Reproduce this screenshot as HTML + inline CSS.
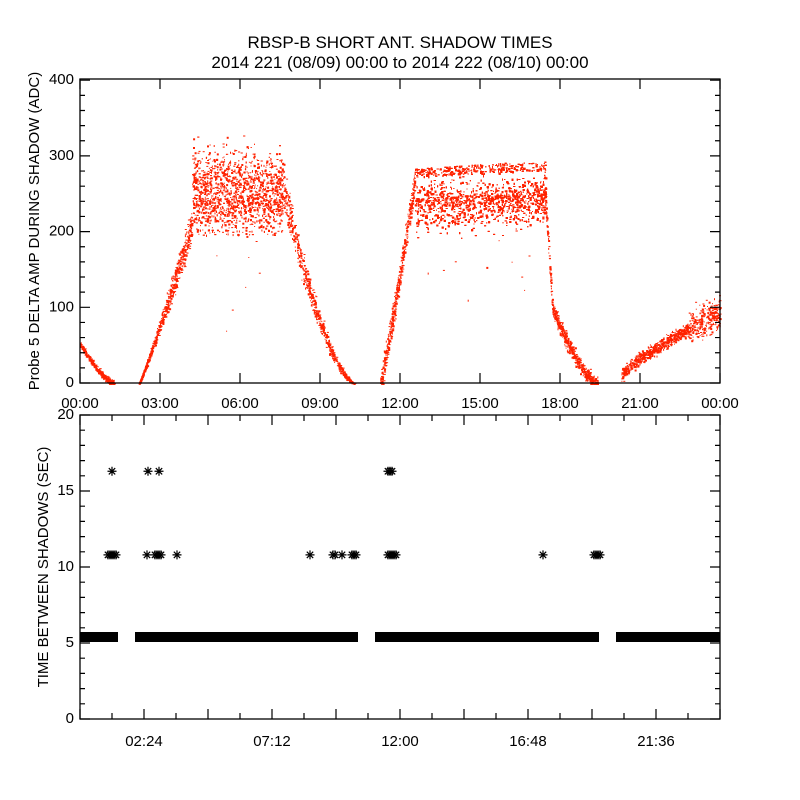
<!DOCTYPE html>
<html><head><meta charset="utf-8"><style>
html,body{margin:0;padding:0;background:#fff;}
svg{display:block;}
text{font-family:"Liberation Sans","DejaVu Sans",sans-serif;fill:#000;}
</style></head><body>
<svg id="s" width="800" height="800" xmlns="http://www.w3.org/2000/svg"></svg>
<script>
var S=document.getElementById('s');var out=[];
var seed=12345;function R(){seed=(seed*1103515245+12345)%2147483648;return seed/2147483648;}
function G(){return (R()+R()+R()-1.5)/1.5;}
function X(h){return 80+h*640/24;}
function Y1(v){return 383-v*0.757;}
function Y2(v){return 719-v*15.2;}
out.push('<text x="400" y="48" font-size="17" text-anchor="middle">RBSP-B SHORT ANT. SHADOW TIMES</text>');
out.push('<text x="400" y="68" font-size="17" text-anchor="middle">2014 221 (08/09) 00:00 to 2014 222 (08/10) 00:00</text>');
var pts=[];
function add(h,v){if(v<0)v=0;pts.push('<rect x="'+X(h).toFixed(1)+'" y="'+Y1(v).toFixed(1)+'" width="'+(R()<0.5?2:1)+'" height="'+(R()<0.4?2:1)+'"/>');}
var i,h,b,t;
for(i=0;i<350;i++){h=R()*1.3;b=52*Math.pow(1-h/1.3,1.5)+G()*6;add(h,b);}
for(i=0;i<650;i++){h=2.2+R()*2.0;t=(h-2.2)/2.0;b=210*Math.pow(t,1.1)+G()*35*t;add(h,b);}
for(i=0;i<2200;i++){h=4.2+R()*3.4;b=258+G()*75;if(R()<0.15)b=195+R()*50;add(h,b);}
for(i=0;i<650;i++){h=7.6+R()*2.7;t=(h-7.6)/2.7;b=260*Math.pow(1-t,1.6)+G()*40*(1-t);add(h,b);}
for(i=0;i<450;i++){h=11.25+R()*1.3;t=(h-11.25)/1.3;b=270*Math.pow(t,1.1)+G()*25;add(h,b);}
for(i=0;i<4500;i++){h=12.55+R()*4.9;b=235+G()*50+(h-12.5)*1.5;if(R()<0.2)b=272+R()*12+(h-12.5)*2;if(R()<0.08)b=240+(h-12.5)*1.5+R()*4;add(h,b);}
for(i=0;i<600;i++){h=17.4+R()*2.0;t=(h-17.4)/2.0;b=(t<0.15?270-t/0.15*170:100*Math.pow((1-t)/0.85,1.5))+G()*15;add(h,b);}
for(i=0;i<900;i++){h=20.3+R()*3.7;t=(h-20.3)/3.7;b=10+85*Math.pow(t,0.8)+G()*12+(h>22.8?G()*30:0);add(h,b);}
for(i=0;i<10;i++){add(13+R()*4,90+R()*100);}
for(i=0;i<6;i++){add(5+R()*2,60+R()*120);}
out.push('<g fill="#ff2200">'+pts.join('')+'</g>');
out.push('<rect x="80" y="79" width="640" height="304" fill="none" stroke="#000" stroke-width="1.3"/>');
var tk=[];
for(var v=0;v<=400;v+=20){var y=Y1(v),L=(v%100==0)?10:5;tk.push('M80 '+y+'h'+L+'M720 '+y+'h-'+L);}
for(h=0;h<=24;h+=3){tk.push('M'+X(h)+' 383v-10M'+X(h)+' 79v10');}
for(v=0;v<=400;v+=100)out.push('<text x="74" y="'+(Y1(v)+4)+'" font-size="15" text-anchor="end">'+v+'</text>');
var lbl=['00:00','03:00','06:00','09:00','12:00','15:00','18:00','21:00','00:00'];
for(i=0;i<9;i++)out.push('<text x="'+X(i*3)+'" y="408" font-size="15" text-anchor="middle">'+lbl[i]+'</text>');
out.push('<text transform="translate(39,231) rotate(-90)" font-size="15" text-anchor="middle">Probe 5 DELTA AMP DURING SHADOW (ADC)</text>');
out.push('<rect x="80" y="415" width="640" height="304" fill="none" stroke="#000" stroke-width="1.3"/>');
for(v=0;v<=20;v++){var y=Y2(v),L=(v%5==0)?10:5;tk.push('M80 '+y+'h'+L+'M720 '+y+'h-'+L);}
for(h=0;h<=24;h+=1.2){var L=(Math.round(h/1.2)%2==0)?10:6;tk.push('M'+X(h)+' 719v-'+L+'M'+X(h)+' 415v'+L);}
out.push('<path d="'+tk.join('')+'" stroke="#000" stroke-width="1.2" fill="none"/>');
for(v=0;v<=20;v+=5)out.push('<text x="74" y="'+(Y2(v)+4)+'" font-size="15" text-anchor="end">'+v+'</text>');
var bl=['02:24','07:12','12:00','16:48','21:36'];
for(i=0;i<5;i++)out.push('<text x="'+X(2.4+i*4.8)+'" y="746" font-size="15" text-anchor="middle">'+bl[i]+'</text>');
out.push('<text transform="translate(48,567) rotate(-90)" font-size="15" text-anchor="middle">TIME BETWEEN SHADOWS (SEC)</text>');
var band=[[80,118],[135,358],[375,599],[616,720]];
var bd='';band.forEach(function(a){bd+='<rect x="'+a[0]+'" y="632" width="'+(a[1]-a[0])+'" height="10"/>';});
out.push('<g fill="#000">'+bd+'</g>');
function star(x,y){var r=4.5;return 'M'+(x-r)+' '+y+'h'+(2*r)+'M'+x+' '+(y-r)+'v'+(2*r)+'M'+(x-3.2)+' '+(y-3.2)+'l6.4 6.4M'+(x-3.2)+' '+(y+3.2)+'l6.4 -6.4';}
var st='';
var s10=[108,110,112,114,116,147,155,157,159,161,177,310,333,335,342,352,354,356,388,390,392,394,396,543,594,596,598,600];
s10.forEach(function(x){st+=star(x,Y2(10.8));});
[112,148,159,388,390,392].forEach(function(x){st+=star(x,Y2(16.3));});
out.push('<path d="'+st+'" stroke="#000" stroke-width="1.2" fill="none"/>');
S.innerHTML=out.join('');
</script>
</body></html>
